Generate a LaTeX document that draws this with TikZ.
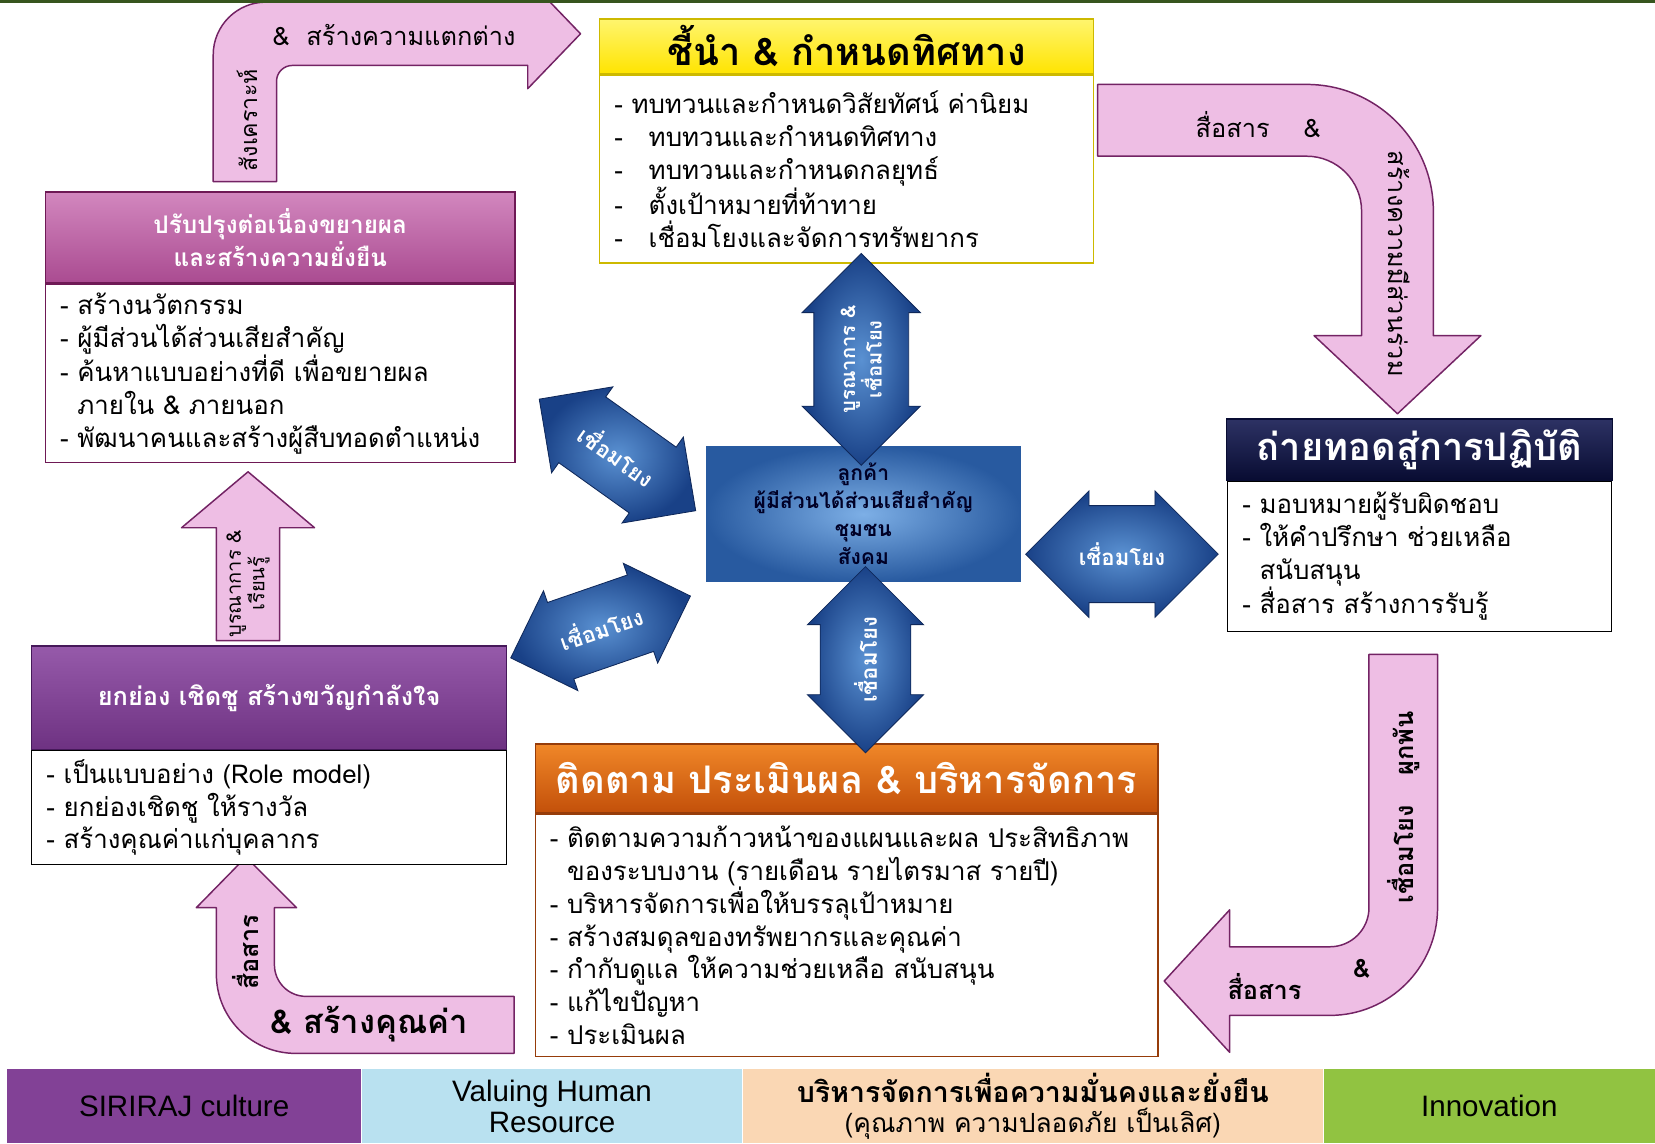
\documentclass[tikz,border=0pt]{standalone}
\usepackage{fontspec}
\setmainfont{Loma}[Script=Thai]
\newfontfamily\barsans{Liberation Sans}
\usetikzlibrary{shapes.arrows,positioning}

\definecolor{leadfill}{RGB}{255,228,0}
\definecolor{leadtop}{RGB}{255,245,110}
\definecolor{leadedge}{RGB}{205,185,0}
\definecolor{improvefill}{RGB}{170,75,145}
\definecolor{improvelight}{RGB}{210,135,190}
\definecolor{improveedge}{RGB}{110,25,85}
\definecolor{praisefill}{RGB}{110,50,130}
\definecolor{praiselight}{RGB}{150,90,170}
\definecolor{praiseedge}{RGB}{70,25,90}
\definecolor{deployfill}{RGB}{8,12,50}
\definecolor{deploylight}{RGB}{45,50,100}
\definecolor{monitorfill}{RGB}{195,80,10}
\definecolor{monitorlight}{RGB}{240,135,40}
\definecolor{monitoredge}{RGB}{150,60,10}
\definecolor{arrowpink}{RGB}{238,190,228}
\definecolor{arrowedge}{RGB}{115,35,100}
\definecolor{linklight}{RGB}{90,145,210}
\definecolor{linkdark}{RGB}{25,65,135}
\definecolor{linkedge}{RGB}{15,40,90}
\definecolor{hublight}{RGB}{125,175,230}
\definecolor{hubdark}{RGB}{40,90,160}
\definecolor{culturefill}{RGB}{130,65,150}
\definecolor{valuefill}{RGB}{185,225,240}
\definecolor{securefill}{RGB}{250,215,180}
\definecolor{innofill}{RGB}{145,195,65}
\definecolor{topline}{RGB}{55,85,30}

\newcommand{\listfont}{\fontsize{24.5}{31}\selectfont}
\newcommand{\pinkfont}{\fontsize{24}{26}\selectfont}
\newcommand{\linkfont}{\fontsize{21}{22}\selectfont\bfseries}
\newcommand{\barfont}{\fontsize{28}{29}\selectfont}

\begin{document}
\begin{tikzpicture}[x=1pt,y=-1pt]
\tikzstyle{titlebar}=[draw, line width=1.2pt, inner sep=0pt, align=center]
\tikzstyle{listbox}=[draw, line width=1.2pt, fill=white, anchor=north, align=left, inner xsep=14pt, inner ysep=0pt, font=\listfont]
\tikzstyle{pinkarrow}=[fill=arrowpink, draw=arrowedge, line width=1.4pt, line join=round]
\tikzstyle{pinktext}=[font=\pinkfont, inner sep=0pt]
\tikzstyle{link}=[double arrow, draw=linkedge, line width=0.8pt, shading=radial, inner color=linklight, outer color=linkdark, text=white, font=\linkfont, align=center, inner xsep=4pt, inner ysep=12pt]
\tikzstyle{barcell}=[draw=white, line width=1pt, anchor=north west, minimum height=71pt, inner sep=0pt, align=center, font=\barfont]

\useasboundingbox (0,0) rectangle (1568,1083);
\clip (0,0) rectangle (1568,1083);
\fill[white] (0,0) rectangle (1568,1083);

\draw[pinkarrow] (202,172) -- (202,52) .. controls (202,24.4) and (224.4,2) .. (252,2) -- (500,2) -- (500,-20) -- (550,32) -- (500,84) -- (500,62) -- (277,62) .. controls (268.7,62) and (262,68.7) .. (262,77) -- (262,172) -- cycle;
\node[pinktext, rotate=90, font=\fontsize{22}{24}\selectfont] (synthtext) at (234,114) {สังเคราะห์};
\node[pinktext, anchor=west] (difftext) at (258,33) {\&~~สร้างความแตกต่าง};

\draw[pinkarrow] (1040,80) -- (1238,80) .. controls (1304.2,80) and (1358,133.8) .. (1358,200) -- (1358,318) -- (1403,318) -- (1324,392) -- (1245,318) -- (1290,318) -- (1290,200) .. controls (1290,171.3) and (1266.7,148) .. (1238,148) -- (1040,148) -- cycle;
\node[pinktext] (sharetext) at (1192,118) {สื่อสาร~~~~\&};
\node[pinktext, rotate=-90] (jointext) at (1326,250) {สร้างความมีส่วนร่วม};

\draw[pinkarrow] (1297,620) -- (1362,620) -- (1362,860) .. controls (1362,916.3) and (1316.3,962) .. (1260,962) -- (1165,962) -- (1165,997) -- (1103,929.5) -- (1165,862) -- (1165,897) -- (1260,897) .. controls (1280.4,897) and (1297,880.4) .. (1297,860) -- cycle;
\node[pinktext, rotate=90, font=\pinkfont\bfseries] (bondtext) at (1330,765) {เชื่อมโยง\hspace{28pt}ผูกพัน};
\node[pinktext, font=\pinkfont\bfseries] (telltext) at (1198,935) {สื่อสาร};
\node[pinktext, font=\pinkfont\bfseries] (tellamp) at (1290,918) {\&};

\draw[pinkarrow] (487,944) -- (290,944) .. controls (273.4,944) and (260,930.6) .. (260,914) -- (260,860) -- (281,860) -- (233,812) -- (186,860) -- (205,860) -- (205,923) .. controls (205,964.4) and (238.6,998) .. (280,998) -- (487,998) -- cycle;
\node[pinktext, rotate=90, font=\pinkfont\bfseries] (voicetext) at (233,902) {สื่อสาร};
\node[pinktext, anchor=west, font=\fontsize{31}{33}\selectfont\bfseries] (worthtext) at (256,970) {\&~สร้างคุณค่า};

\draw[pinkarrow] (205,607) -- (205,500) -- (172,500) -- (235,447) -- (298,500) -- (265,500) -- (265,607) -- cycle;
\node[pinktext, rotate=90, align=center, font=\fontsize{19}{21}\selectfont] (learntext) at (235,553) {บูรณาการ \&\\เรียนรู้};

\node[titlebar, draw=leadedge, top color=leadtop, bottom color=leadfill, minimum width=468pt, minimum height=52pt, font=\fontsize{36}{38}\selectfont\bfseries] (lead) at (802,44) {ชี้นำ \& กำหนดทิศทาง};
\node[listbox, draw=leadedge, text width=440pt, minimum height=178pt] (leadlist) at (lead.south) {- ทบทวนและกำหนดวิสัยทัศน์ ค่านิยม\\-~~~ทบทวนและกำหนดทิศทาง\\-~~~ทบทวนและกำหนดกลยุทธ์\\-~~~ตั้งเป้าหมายที่ท้าทาย\\-~~~เชื่อมโยงและจัดการทรัพยากร};

\node[titlebar, draw=improveedge, top color=improvelight, bottom color=improvefill, text=white, minimum width=445pt, minimum height=86pt, font=\fontsize{23}{27}\selectfont\bfseries] (improve) at (265.5,225) {ปรับปรุงต่อเนื่องขยายผล\\และสร้างความยั่งยืน};
\node[listbox, draw=improveedge, text width=417pt, minimum height=169pt] (improvelist) at (improve.south) {- สร้างนวัตกรรม\\- ผู้มีส่วนได้ส่วนเสียสำคัญ\\- ค้นหาแบบอย่างที่ดี เพื่อขยายผล\\\phantom{- }ภายใน \& ภายนอก\\- พัฒนาคนและสร้างผู้สืบทอดตำแหน่ง};

\node[titlebar, draw=praiseedge, top color=praiselight, bottom color=praisefill, text=white, minimum width=450pt, minimum height=98pt, font=\fontsize{24}{26}\selectfont\bfseries] (praise) at (255,661) {ยกย่อง เชิดชู สร้างขวัญกำลังใจ};
\node[listbox, draw=black, text width=422pt, minimum height=108pt] (praiselist) at (praise.south) {- เป็นแบบอย่าง (Role model)\\- ยกย่องเชิดชู ให้รางวัล\\- สร้างคุณค่าแก่บุคลากร};

\node[titlebar, draw=deployfill, top color=deploylight, bottom color=deployfill, text=white, minimum width=366pt, minimum height=58pt, font=\fontsize{36}{38}\selectfont\bfseries] (deploy) at (1345,426) {ถ่ายทอดสู่การปฏิบัติ};
\node[listbox, draw=black, text width=336pt, minimum height=142pt] (deploylist) at (deploy.south) {- มอบหมายผู้รับผิดชอบ\\- ให้คำปรึกษา ช่วยเหลือ\\\phantom{- }สนับสนุน\\- สื่อสาร สร้างการรับรู้};

\node[titlebar, draw=monitoredge, top color=monitorlight, bottom color=monitorfill, text=white, minimum width=590pt, minimum height=65pt, font=\fontsize{36}{38}\selectfont\bfseries] (monitor) at (802,737.5) {ติดตาม ประเมินผล \& บริหารจัดการ};
\node[listbox, draw=monitoredge, text width=562pt, minimum height=230pt] (monitorlist) at (monitor.south) {- ติดตามความก้าวหน้าของแผนและผล ประสิทธิภาพ\\\phantom{- }ของระบบงาน (รายเดือน รายไตรมาส รายปี)\\- บริหารจัดการเพื่อให้บรรลุเป้าหมาย\\- สร้างสมดุลของทรัพยากรและคุณค่า\\- กำกับดูแล ให้ความช่วยเหลือ สนับสนุน\\- แก้ไขปัญหา\\- ประเมินผล};

\node[draw=white, line width=1.5pt, shading=radial, inner color=hublight, outer color=hubdark, minimum width=300pt, minimum height=130pt, align=center, text=black!85!blue, font=\fontsize{20}{26.5}\selectfont\bfseries] (hub) at (818,487) {ลูกค้า\\ผู้มีส่วนได้ส่วนเสียสำคัญ\\ชุมชน\\สังคม};

\node[link, rotate=90, minimum height=169pt, minimum width=112pt, font=\fontsize{19}{21}\selectfont\bfseries, inner ysep=9pt] (linktop) at (816,340.5) {บูรณาการ \&\\เชื่อมโยง};
\node[link, rotate=90, minimum height=140pt, minimum width=110pt, inner ysep=14pt] (linkbottom) at (820,625) {เชื่อมโยง};
\node[link, minimum height=177pt, minimum width=120pt] (linkright) at (1063,525) {เชื่อมโยง};
\node[link, rotate=-35.5, minimum height=182pt, minimum width=100pt] (linkupper) at (585,431) {เชื่อมโยง};
\node[link, rotate=19, minimum height=180pt, minimum width=100pt] (linklower) at (569,594) {เชื่อมโยง};

\node[barcell, fill=culturefill, minimum width=336pt] (culture) at (6,1012) {\barsans SIRIRAJ culture};
\node[barcell, fill=valuefill, minimum width=361pt] (valuing) at (342,1012) {\barsans Valuing Human\\\barsans Resource};
\node[barcell, fill=securefill, minimum width=550pt, font=\fontsize{25}{29}\selectfont] (secure) at (703,1012) {{\fontsize{27}{29}\selectfont\bfseries บริหารจัดการเพื่อความมั่นคงและยั่งยืน}\\(คุณภาพ ความปลอดภัย เป็นเลิศ)};
\node[barcell, fill=innofill, minimum width=315pt] (innovation) at (1253,1012) {\barsans Innovation};

\draw[topline, line width=3pt] (0,1) -- (1568,1);
\end{tikzpicture}
\end{document}
